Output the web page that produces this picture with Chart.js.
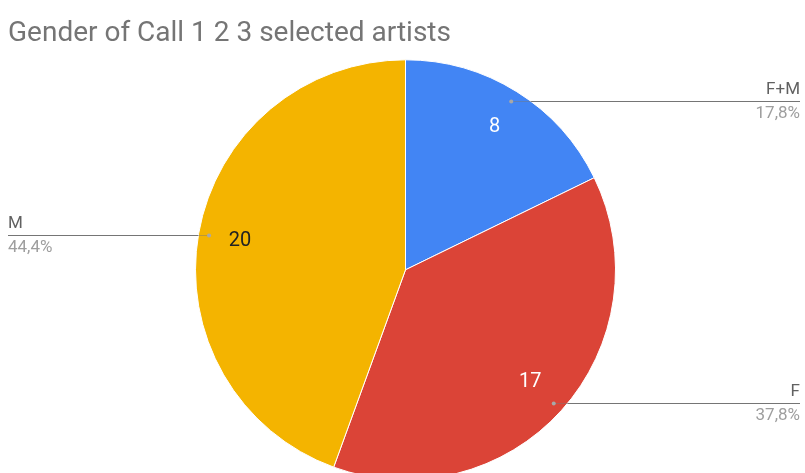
<!DOCTYPE html>
<html>
<head>
<meta charset="utf-8">
<script src="https://cdn.jsdelivr.net/npm/chart.js@4"></script>
<style>
  html, body { margin: 0; padding: 0; background: #fff; overflow: hidden; }
</style>
</head>
<body>
<canvas id="chart" width="805" height="473"></canvas>
<script>
const labels = ["F+M", "F", "M"];
const values = [8, 17, 20];
const colors = ["#4285F4", "#DB4437", "#F4B400"];
const valueColors = ["#ffffff", "#ffffff", "#222222"];

const total = values.reduce((a, b) => a + b, 0);

// leader lines + labels like google sheets
const sideLabels = {
  id: "sideLabels",
  afterDatasetsDraw(chart) {
    const ctx = chart.ctx;
    const meta = chart.getDatasetMeta(0);
    ctx.save();
    meta.data.forEach((arc, i) => {
      const p = arc.getProps(["x", "y", "startAngle", "endAngle", "outerRadius"], true);
      const mid = (p.startAngle + p.endAngle) / 2;
      const r = p.outerRadius;

      // value inside slice
      ctx.font = "20px Roboto";
      ctx.fillStyle = valueColors[i];
      ctx.textAlign = "center";
      ctx.textBaseline = "middle";
      ctx.fillText(values[i], p.x + Math.cos(mid) * r * 0.8, p.y + Math.sin(mid) * r * 0.8);

      // dot + line
      const dx = p.x + Math.cos(mid) * r * 0.95;
      const dy = Math.round(p.y + Math.sin(mid) * r * 0.95) + 0.5;
      const right = Math.cos(mid) > 0;
      const endX = right ? 800 : 8;
      const edge = Math.sqrt(Math.max(r * r - (dy - p.y) * (dy - p.y), 0));
      const edgeX = right ? p.x + edge : p.x - edge;

      ctx.strokeStyle = "rgba(120,120,120,0.45)";
      ctx.lineWidth = 1;
      ctx.beginPath();
      ctx.moveTo(dx, dy);
      ctx.lineTo(edgeX, dy);
      ctx.stroke();

      ctx.strokeStyle = "#757575";
      ctx.beginPath();
      ctx.moveTo(edgeX, dy);
      ctx.lineTo(endX, dy);
      ctx.stroke();

      ctx.fillStyle = "#a8a8a8";
      ctx.beginPath();
      ctx.arc(dx, dy, 2, 0, Math.PI * 2);
      ctx.fill();

      // name and percent
      ctx.textAlign = right ? "right" : "left";
      ctx.font = "17px Roboto";
      ctx.fillStyle = "#616161";
      ctx.textBaseline = "bottom";
      ctx.fillText(labels[i], endX, dy - 3);
      ctx.fillStyle = "#9e9e9e";
      ctx.textBaseline = "top";
      const pct = (values[i] / total * 100).toFixed(1).replace(".", ",") + "%";
      ctx.fillText(pct, endX, dy + 4);
    });
    ctx.restore();
  }
};

new Chart(document.getElementById("chart"), {
  type: "pie",
  data: {
    labels: labels,
    datasets: [{
      data: values,
      backgroundColor: colors,
      borderColor: "#ffffff",
      borderWidth: 1,
      radius: 210
    }]
  },
  options: {
    responsive: false,
    animation: false,
    layout: { padding: { left: 8, right: 2, top: 0, bottom: 0 } },
    plugins: {
      legend: { display: false },
      tooltip: { enabled: false },
      title: {
        display: true,
        text: "Gender of Call 1 2 3 selected artists",
        align: "start",
        color: "#757575",
        font: { family: "Roboto", size: 28, weight: "normal" },
        padding: { top: 17, bottom: 16 }
      }
    }
  },
  plugins: [sideLabels]
});
</script>
</body>
</html>
